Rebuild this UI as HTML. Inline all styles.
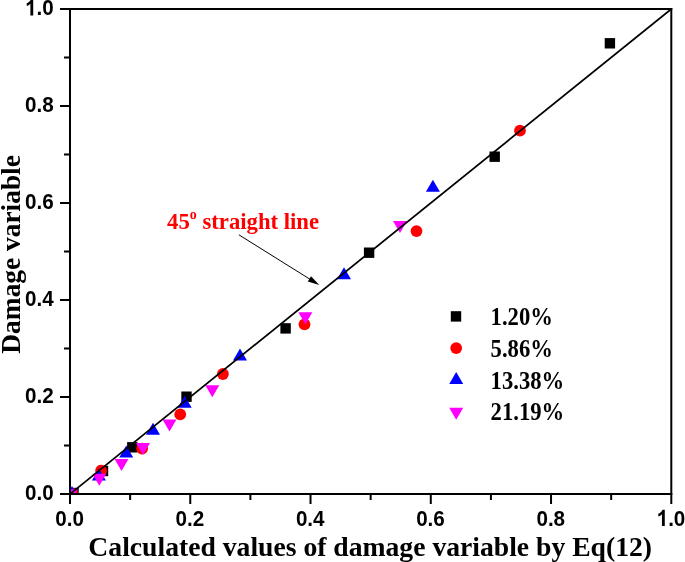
<!DOCTYPE html>
<html><head><meta charset="utf-8"><title>chart</title>
<style>html,body{margin:0;padding:0;background:#fff;}body{width:685px;height:562px;overflow:hidden;}svg{display:block;position:absolute;left:0;top:0;will-change:transform;}.t{font-family:"Liberation Sans",sans-serif;font-weight:bold;fill:#000;}.s{font-family:"Liberation Serif",serif;font-weight:bold;fill:#000;}</style></head><body>
<svg width="685" height="562" viewBox="0 0 685 562">
<rect x="0" y="0" width="685" height="562" fill="#fff"/>
<defs><clipPath id="c"><rect x="70.0" y="9.0" width="601.3" height="485.0"/></clipPath></defs>
<g clip-path="url(#c)">
<rect x="68.30" y="487.80" width="10.40" height="10.40" fill="#000"/>
<rect x="97.80" y="465.80" width="10.40" height="10.40" fill="#000"/>
<rect x="127.10" y="442.10" width="10.40" height="10.40" fill="#000"/>
<rect x="181.30" y="391.50" width="10.40" height="10.40" fill="#000"/>
<rect x="280.40" y="323.20" width="10.40" height="10.40" fill="#000"/>
<rect x="363.90" y="247.50" width="10.40" height="10.40" fill="#000"/>
<rect x="489.50" y="151.50" width="10.40" height="10.40" fill="#000"/>
<rect x="604.70" y="38.10" width="10.40" height="10.40" fill="#000"/>
<circle cx="72.50" cy="494.00" r="5.90" fill="#f00"/>
<circle cx="101.10" cy="470.70" r="5.90" fill="#f00"/>
<circle cx="142.10" cy="448.60" r="5.90" fill="#f00"/>
<circle cx="180.20" cy="414.30" r="5.90" fill="#f00"/>
<circle cx="222.90" cy="374.00" r="5.90" fill="#f00"/>
<circle cx="304.50" cy="324.30" r="5.90" fill="#f00"/>
<circle cx="416.50" cy="231.10" r="5.90" fill="#f00"/>
<circle cx="520.00" cy="130.70" r="5.90" fill="#f00"/>
<path d="M65.00 498.10L79.00 498.10L72.00 486.10Z" fill="#00f"/>
<path d="M91.90 480.60L105.90 480.60L98.90 468.60Z" fill="#00f"/>
<path d="M119.20 457.40L133.20 457.40L126.20 445.40Z" fill="#00f"/>
<path d="M146.00 434.80L160.00 434.80L153.00 422.80Z" fill="#00f"/>
<path d="M177.70 407.70L191.70 407.70L184.70 395.70Z" fill="#00f"/>
<path d="M233.00 360.40L247.00 360.40L240.00 348.40Z" fill="#00f"/>
<path d="M337.00 279.20L351.00 279.20L344.00 267.20Z" fill="#00f"/>
<path d="M425.90 191.80L439.90 191.80L432.90 179.80Z" fill="#00f"/>
<path d="M63.80 489.30L77.80 489.30L70.80 501.30Z" fill="#f0f"/>
<path d="M92.30 473.75L106.30 473.75L99.30 485.75Z" fill="#f0f"/>
<path d="M114.50 458.90L128.50 458.90L121.50 470.90Z" fill="#f0f"/>
<path d="M136.00 443.00L150.00 443.00L143.00 455.00Z" fill="#f0f"/>
<path d="M162.50 419.40L176.50 419.40L169.50 431.40Z" fill="#f0f"/>
<path d="M205.30 385.30L219.30 385.30L212.30 397.30Z" fill="#f0f"/>
<path d="M298.40 312.30L312.40 312.30L305.40 324.30Z" fill="#f0f"/>
<path d="M393.00 221.10L407.00 221.10L400.00 233.10Z" fill="#f0f"/>
<line x1="70.0" y1="494.0" x2="671.3" y2="9.0" stroke="#000" stroke-width="1.75"/>
</g>
<g stroke="#000" stroke-width="2" fill="none" stroke-linecap="butt">
<path d="M60.0 9.0H672.3"/>
<path d="M671.3 8.0V504.0"/>
<path d="M70.0 8.0V504.0"/>
<path d="M60.0 494.0H672.3"/>
<path d="M130.13 494.0V500.0"/>
<path d="M64.0 445.50H70.0"/>
<path d="M190.26 494.0V504.0"/>
<path d="M60.0 397.00H70.0"/>
<path d="M250.39 494.0V500.0"/>
<path d="M64.0 348.50H70.0"/>
<path d="M310.52 494.0V504.0"/>
<path d="M60.0 300.00H70.0"/>
<path d="M370.65 494.0V500.0"/>
<path d="M64.0 251.50H70.0"/>
<path d="M430.78 494.0V504.0"/>
<path d="M60.0 203.00H70.0"/>
<path d="M490.91 494.0V500.0"/>
<path d="M64.0 154.50H70.0"/>
<path d="M551.04 494.0V504.0"/>
<path d="M60.0 106.00H70.0"/>
<path d="M611.17 494.0V500.0"/>
<path d="M64.0 57.50H70.0"/>
</g>
<text class="t" font-size="21.4" transform="translate(69.70,525.9) scale(0.965,1.050)" text-anchor="middle">0.0</text>
<text class="t" font-size="21.4" transform="translate(53.8,500.40) scale(0.965,1.050)" text-anchor="end">0.0</text>
<text class="t" font-size="21.4" transform="translate(189.96,525.9) scale(0.965,1.050)" text-anchor="middle">0.2</text>
<text class="t" font-size="21.4" transform="translate(53.8,403.40) scale(0.965,1.050)" text-anchor="end">0.2</text>
<text class="t" font-size="21.4" transform="translate(310.22,525.9) scale(0.965,1.050)" text-anchor="middle">0.4</text>
<text class="t" font-size="21.4" transform="translate(53.8,306.40) scale(0.965,1.050)" text-anchor="end">0.4</text>
<text class="t" font-size="21.4" transform="translate(430.48,525.9) scale(0.965,1.050)" text-anchor="middle">0.6</text>
<text class="t" font-size="21.4" transform="translate(53.8,209.40) scale(0.965,1.050)" text-anchor="end">0.6</text>
<text class="t" font-size="21.4" transform="translate(550.74,525.9) scale(0.965,1.050)" text-anchor="middle">0.8</text>
<text class="t" font-size="21.4" transform="translate(53.8,112.40) scale(0.965,1.050)" text-anchor="end">0.8</text>
<path d="M806 0H525V1059Q371 915 162 846V1101Q272 1137 401 1237.5Q530 1338 578 1472H806Z" transform="translate(656.65,525.90) scale(0.010083,-0.010972)" fill="#000"/>
<text class="t" font-size="21.4" transform="translate(685.35,525.9) scale(0.965,1.050)" text-anchor="end">.0</text>
<path d="M806 0H525V1059Q371 915 162 846V1101Q272 1137 401 1237.5Q530 1338 578 1472H806Z" transform="translate(25.09,15.40) scale(0.010083,-0.010972)" fill="#000"/>
<text class="t" font-size="21.4" transform="translate(53.8,15.40) scale(0.965,1.050)" text-anchor="end">.0</text>
<text class="s" x="370.2" y="556" font-size="27.4" text-anchor="middle" textLength="563.7" lengthAdjust="spacingAndGlyphs">Calculated values of damage variable by Eq(12)</text>
<text class="s" font-size="27.4" text-anchor="middle" transform="translate(20,254.4) rotate(-90)">Damage variable</text>
<text class="s" x="167.1" y="228.6" font-size="22.7" fill="#f00" style="fill:#f00">45<tspan font-size="14" dy="-9.8">o</tspan><tspan dy="9.8"> straight line</tspan></text>
<line x1="238.9" y1="234.8" x2="312.3" y2="280.7" stroke="#000" stroke-width="1"/>
<path d="M319.3 285.1L311 276.3L307.8 281.5Z" fill="#000"/>
<rect x="450.80" y="311.20" width="10.40" height="10.40" fill="#000"/>
<circle cx="456.20" cy="348.10" r="5.90" fill="#f00"/>
<path d="M449.20 384.10L463.20 384.10L456.20 372.10Z" fill="#00f"/>
<path d="M449.20 407.70L463.20 407.70L456.20 419.70Z" fill="#f0f"/>
<text class="s" transform="translate(490.6,325.0) scale(0.99,1.075)" font-size="22.9">1.20%</text>
<text class="s" transform="translate(490.6,356.8) scale(0.99,1.075)" font-size="22.9">5.86%</text>
<text class="s" transform="translate(490.6,388.6) scale(0.99,1.075)" font-size="22.9">13.38%</text>
<text class="s" transform="translate(490.6,420.3) scale(0.99,1.075)" font-size="22.9">21.19%</text>
</svg></body></html>
